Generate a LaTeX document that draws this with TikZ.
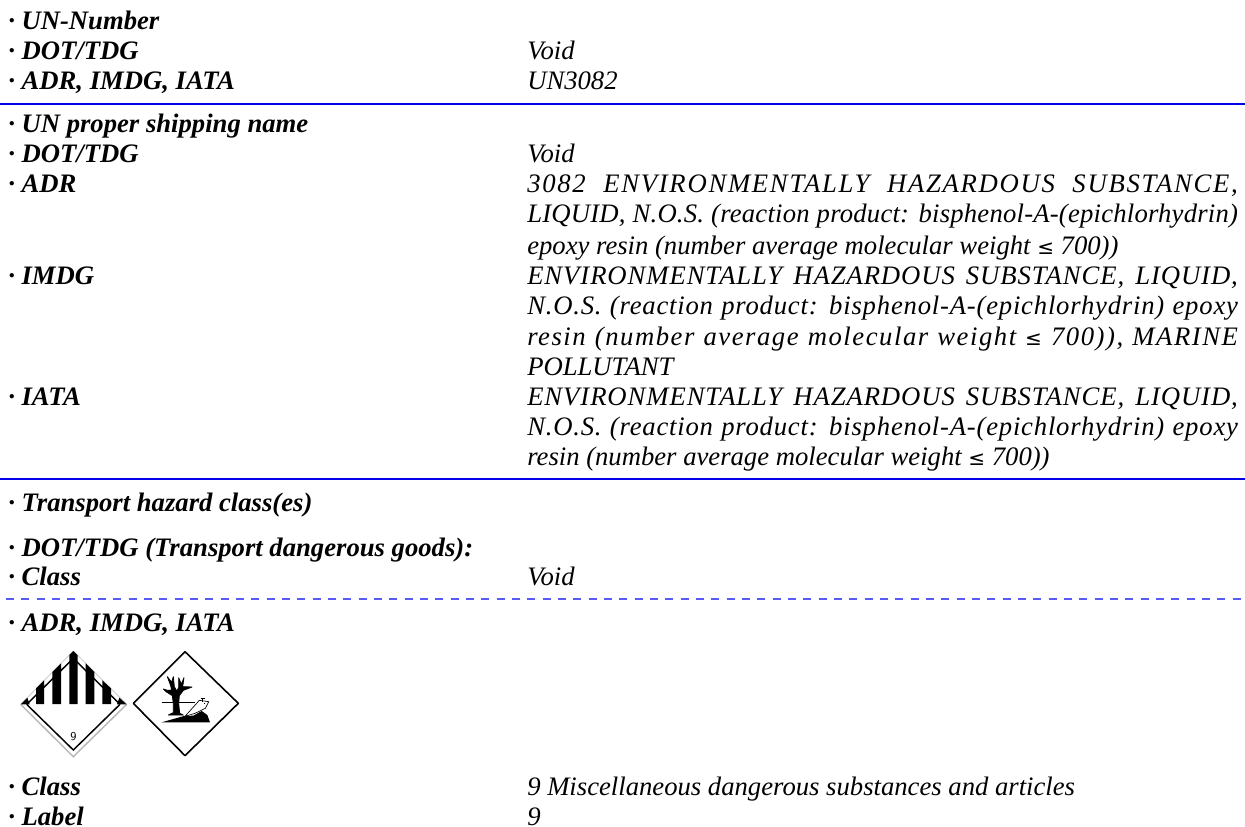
\documentclass[tikz,border=0pt]{standalone}
\usepackage{fontspec}
\setmainfont{Liberation Serif}
\newfontfamily\symf{DejaVu Sans}
\definecolor{rulecol}{RGB}{0,0,235}
\definecolor{dashcol}{RGB}{90,90,245}
\tikzset{
 x=0.75pt,y=-0.75pt,
 lab/.style={anchor=base west,inner sep=0pt,font=\fontsize{20}{20}\selectfont\bfseries\itshape},
 val/.style={anchor=base west,inner sep=0pt,font=\fontsize{20}{20}\selectfont\itshape},
 rul/.style={draw=rulecol,line width=1.2pt},
 drul/.style={draw=dashcol,line width=0.9pt,dash pattern=on 6pt off 5.5pt},
 zoomed/.style={x=0.25pt,y=-0.25pt},
}
\newcommand{\jl}[2]{\makebox[533pt][s]{\addfontfeature{LetterSpace=#1}#2}}
\newcommand{\lessq}{{\symf\fontsize{15}{15}\selectfont\upshape ≤}}
\begin{document}
\begin{tikzpicture}
\useasboundingbox (0,0) rectangle (1245,827);
\fill[white] (0,0) rectangle (1245,827);
\def\rx{527}
\node[lab] (a1) at (8,30) {· UN-Number};
\node[lab] (a2) at (8,60) {· DOT/TDG};
\node[lab] (a3) at (8,90) {· ADR, IMDG, IATA};
\node[val] (b2) at (\rx,60) {Void};
\node[val] (b3) at (\rx,90) {UN3082};
\coordinate (r1a) at (0,104);\coordinate (r1b) at (1245,104);
\draw[rul] (r1a) -- (r1b);
\node[lab] (c1) at (8,133) {· UN proper shipping name};
\node[lab] (c2) at (8,163) {· DOT/TDG};
\node[val] (d2) at (\rx,163) {Void};
\node[lab] (c3) at (8,193) {· ADR};
\node[val] (d3) at (\rx,193) {\jl{6.5}{3082 ENVIRONMENTALLY HAZARDOUS SUBSTANCE,}};
\node[val] (d4) at (\rx,223) {\jl{0.8}{LIQUID, N.O.S. (reaction product: bisphenol-A-(epichlorhydrin)}};
\node[val] (d5) at (\rx,254) {epoxy resin (number average molecular weight \lessq{} 700))};
\node[lab] (c6) at (8,284) {· IMDG};
\node[val] (d6) at (\rx,284) {\jl{3.5}{ENVIRONMENTALLY HAZARDOUS SUBSTANCE, LIQUID,}};
\node[val] (d7) at (\rx,314) {\jl{3}{N.O.S. (reaction product: bisphenol-A-(epichlorhydrin) epoxy}};
\node[val] (d8) at (\rx,345) {\jl{5.8}{resin (number average molecular weight \lessq{} 700)), MARINE}};
\node[val] (d9) at (\rx,375) {POLLUTANT};
\node[lab] (c10) at (8,405) {· IATA};
\node[val] (d10) at (\rx,405) {\jl{3.5}{ENVIRONMENTALLY HAZARDOUS SUBSTANCE, LIQUID,}};
\node[val] (d11) at (\rx,435) {\jl{3}{N.O.S. (reaction product: bisphenol-A-(epichlorhydrin) epoxy}};
\node[val] (d12) at (\rx,465) {resin (number average molecular weight \lessq{} 700))};
\coordinate (r2a) at (0,479);\coordinate (r2b) at (1245,479);
\draw[rul] (r2a) -- (r2b);
\node[lab] (e1) at (8,511) {· Transport hazard class(es)};
\node[lab] (e2) at (8,556) {· DOT/TDG (Transport dangerous goods):};
\node[lab] (e3) at (8,585) {· Class};
\node[val] (f3) at (\rx,585) {Void};
\coordinate (r3a) at (6,599);\coordinate (r3b) at (1245,599);
\draw[drul] (r3a) -- (r3b);
\node[lab] (e4) at (8,631) {· ADR, IMDG, IATA};
\node[lab] (e5) at (8,795) {· Class};
\node[val] (f5) at (\rx,795) {9 Miscellaneous dangerous substances and articles};
\node[lab] (e6) at (8,825) {· Label};
\node[val] (f6) at (\rx,825) {9};
% class 9 diamond, drawn in the coordinates of a 3x crop
\begin{scope}[shift={(15,645)},zoomed]
\draw[gray!45,line width=0.5pt] (17,178) -- (175,18) -- (335,178);
\draw[gray!55,line width=1.1pt] (17,178) -- (175,335) -- (335,178);
\draw[black,line width=1.1pt,line join=miter] (35,178) -- (175,315) -- (315,178);
\draw[black,line width=1.1pt] (35,178) -- (175,40) -- (315,178);
\fill[black] (17,178) -- (37,158) -- (44,178) -- cycle;
\fill[black] (335,178) -- (313,158) -- (306,178) -- cycle;
\fill[black] (63,177) -- (63,130) -- (87,106) -- (87,177) -- cycle;
\fill[black] (112,177) -- (112,81) -- (138,55) -- (138,177) -- cycle;
\fill[black] (163,177) -- (163,30) -- (175,18) -- (188,31) -- (188,177) -- cycle;
\fill[black] (212,177) -- (212,55) -- (238,81) -- (238,177) -- cycle;
\fill[black] (262,177) -- (262,106) -- (288,130) -- (288,177) -- cycle;
\node[inner sep=0pt,font=\fontsize{9}{9}\selectfont\sffamily] (nine) at (175,276) {9};
\end{scope}
% environment diamond, same crop coordinates
\begin{scope}[shift={(130,645)},zoomed]
\draw[black,line width=1.2pt,line join=round] (10,175) -- (165,20) -- (325,175) -- (165,332) -- cycle;
\draw[black,line width=0.6pt] (95,172) -- (195,172);
\filldraw[black,line width=0.6pt,line join=round] (115,210) -- (130,203) -- (130,175) -- (127,152) -- (108,140) -- (100,132) -- (112,136) -- (125,135) -- (122,122) -- (112,95) -- (125,112) -- (130,95) -- (133,125) -- (140,138) -- (146,128) -- (146,98) -- (154,118) -- (162,98) -- (158,125) -- (186,126) -- (160,136) -- (148,152) -- (146,175) -- (149,205) -- (160,210) -- cycle;
\fill[black] (95,232) -- (130,222) -- (162,213) -- (190,212) -- (215,198) -- (232,210) -- (240,232) -- cycle;
\draw[black,fill=white,line width=0.5pt] (165,214) -- (208,166) -- (236,170) -- (226,190) -- (195,205) -- cycle;
\draw[black,line width=0.6pt] (212,160) -- (224,160) (218,160) -- (218,170) (222,176) -- (226,176);
\end{scope}
\end{tikzpicture}
\end{document}
